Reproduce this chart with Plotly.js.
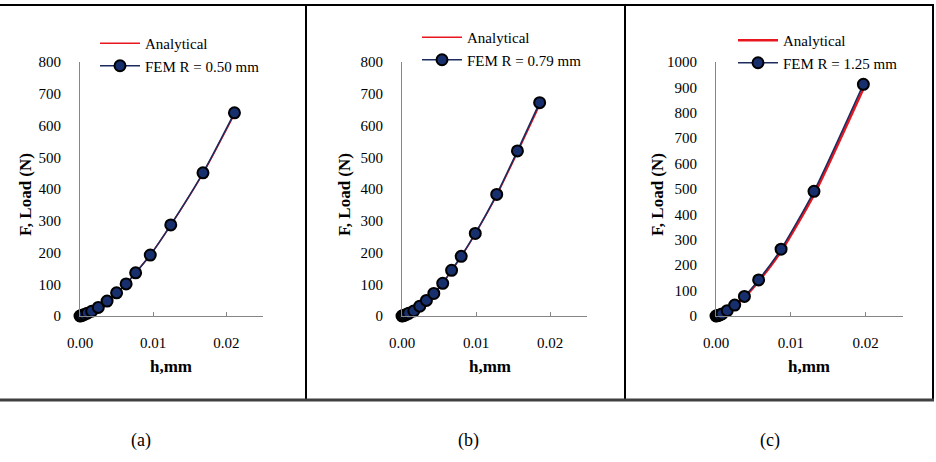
<!DOCTYPE html>
<html>
<head>
<meta charset="utf-8">
<script src="https://cdn.plot.ly/plotly-3.0.1.min.js"></script>
<style>
  html, body { margin: 0; padding: 0; background: #fff; }
  #chart { width: 936px; height: 462px; }
</style>
</head>
<body>
<div id="chart"></div>
<script>
// Load vs. indentation depth for three sphere radii
const hA = [0, 0.0001, 0.0003, 0.0006, 0.0010, 0.0016, 0.0025, 0.0037, 0.0050, 0.0063, 0.0076, 0.0096, 0.0124, 0.0168, 0.0211];
const analyticalA = [0, 0.5, 2, 5, 9, 15, 26, 46, 72, 101, 136, 192, 286, 449, 636];
const femA = [0, 0.5, 2, 5, 9, 15, 27, 47, 73, 101, 136, 192, 287, 451, 640];

const hB = [0, 0.0001, 0.0003, 0.0006, 0.0009, 0.0016, 0.0024, 0.0033, 0.0043, 0.0055, 0.0067, 0.0080, 0.0099, 0.0128, 0.0156, 0.0186];
const analyticalB = [0, 0.5, 2, 5, 8.5, 16, 30, 48, 70, 103, 143, 187, 259, 380, 515, 664];
const femB = [0, 0.5, 2, 5, 8.5, 16, 31, 49, 71, 103, 144, 188, 260, 383, 520, 672];

const hC = [0, 0.0001, 0.0003, 0.0005, 0.0008, 0.0015, 0.0025, 0.0038, 0.0057, 0.0087, 0.0131, 0.0197];
const analyticalC = [0, 0.5, 2, 4, 8, 20, 41, 74, 137, 255, 478, 895];
const femC = [0, 0.5, 2, 4, 8, 21, 43, 77, 142, 263, 491, 912];

const femNames = ['FEM R = 0.50 mm', 'FEM R = 0.79 mm', 'FEM R = 1.25 mm'];
const panelLabels = ['(a)', '(b)', '(c)'];
const yMax = [800, 800, 1000];

const W = 936, H = 462;
const px = v => v / W;
const py = v => 1 - v / H;

const serif = '"Liberation Serif", "Times New Roman", serif';
const RED = '#e8161e';
const NAVY = '#1d2b5e';
const FILL = '#182f6e';

const sets = [
  {h: hA, an: analyticalA, fem: femA, redW: 1.5},
  {h: hB, an: analyticalB, fem: femB, redW: 1.5},
  {h: hC, an: analyticalC, fem: femC, redW: 2.6}
];

// plot-area pixel boxes [left, right]
const xDom = [[80, 263], [402, 587], [716, 903]];
const yTop = 62, yBot = 316;
const legendPos = [[95, 27], [417, 21], [733, 24]];
const xTitleX = [171, 490, 809];
const yTitleX = [25, 344, 657];
const labelX = [141, 468, 770];

const traces = [];
const layout = {
  width: W, height: H,
  margin: {l: 0, r: 0, t: 0, b: 0},
  paper_bgcolor: '#fff', plot_bgcolor: 'rgba(0,0,0,0)',
  font: {family: serif, size: 15, color: '#000'},
  showlegend: true,
  annotations: [],
  shapes: []
};

sets.forEach((s, i) => {
  const sfx = i === 0 ? '' : String(i + 1);
  const lg = 'legend' + sfx;
  traces.push({
    x: s.h, y: s.an, xaxis: 'x' + sfx, yaxis: 'y' + sfx,
    type: 'scatter', mode: 'lines', name: 'Analytical', legend: lg,
    line: {color: RED, width: s.redW, shape: 'spline', smoothing: 0.6},
    cliponaxis: false, hoverinfo: 'skip'
  });
  traces.push({
    x: s.h, y: s.fem, xaxis: 'x' + sfx, yaxis: 'y' + sfx,
    type: 'scatter', mode: 'lines+markers', name: femNames[i], legend: lg,
    line: {color: NAVY, width: 1.6, shape: 'spline', smoothing: 0.6},
    marker: {size: 11, color: FILL, line: {color: '#000', width: 2}},
    cliponaxis: false, hoverinfo: 'skip'
  });

  layout['xaxis' + sfx] = {
    domain: [px(xDom[i][0]), px(xDom[i][1])],
    anchor: 'y' + sfx,
    range: [0, 0.025], dtick: 0.01, tick0: 0, tickformat: '.2f',
    showgrid: false, zeroline: false,
    showline: true, linecolor: '#868686', linewidth: 1,
    ticks: 'inside', ticklen: 4, tickcolor: '#868686',
    ticklabelstandoff: 13,
    tickfont: {family: serif, size: 15, color: '#000'},
    fixedrange: true
  };
  layout['yaxis' + sfx] = {
    domain: [py(yBot), py(yTop)],
    anchor: 'x' + sfx,
    range: [0, yMax[i]], dtick: 100, tick0: 0,
    showgrid: false, zeroline: false,
    showline: true, linecolor: '#868686', linewidth: 1,
    ticks: '', ticklabelstandoff: 15,
    tickfont: {family: serif, size: 15, color: '#000'},
    fixedrange: true
  };
  layout[lg] = {
    x: px(legendPos[i][0]), y: py(legendPos[i][1]),
    xanchor: 'left', yanchor: 'top',
    bgcolor: 'rgba(0,0,0,0)', borderwidth: 0,
    itemwidth: 40, tracegroupgap: 0,
    font: {family: serif, size: 15, color: '#000'}
  };

  // axis titles
  layout.annotations.push({
    xref: 'paper', yref: 'paper', x: px(xTitleX[i]), y: py(366),
    xanchor: 'center', yanchor: 'middle', showarrow: false,
    text: '<b>h,mm</b>', font: {family: serif, size: 17, color: '#000'}
  });
  layout.annotations.push({
    xref: 'paper', yref: 'paper', x: px(yTitleX[i]), y: py(195),
    xanchor: 'center', yanchor: 'middle', showarrow: false, textangle: -90,
    text: '<b>F, Load (N)</b>', font: {family: serif, size: 17, color: '#000'}
  });
  // panel label
  layout.annotations.push({
    xref: 'paper', yref: 'paper', x: px(labelX[i]), y: py(440),
    xanchor: 'center', yanchor: 'middle', showarrow: false,
    text: panelLabels[i], font: {family: serif, size: 18, color: '#000'}
  });
});

// frame around the three panels
const seg = (x0, y0, x1, y1, color, width) => ({
  type: 'line', xref: 'paper', yref: 'paper',
  x0: px(x0), y0: py(y0), x1: px(x1), y1: py(y1),
  line: {color: color, width: width}
});
layout.shapes.push(seg(0, 5, 934, 5, '#000', 2));
layout.shapes.push(seg(933, 5, 933, 400, '#000', 2));
layout.shapes.push(seg(306, 5, 306, 400, '#000', 2));
layout.shapes.push(seg(625, 5, 625, 400, '#000', 2));
layout.shapes.push(seg(0, 400, 934, 400, '#404040', 3));

Plotly.newPlot('chart', traces, layout, {displayModeBar: false, staticPlot: true});
</script>
</body>
</html>
